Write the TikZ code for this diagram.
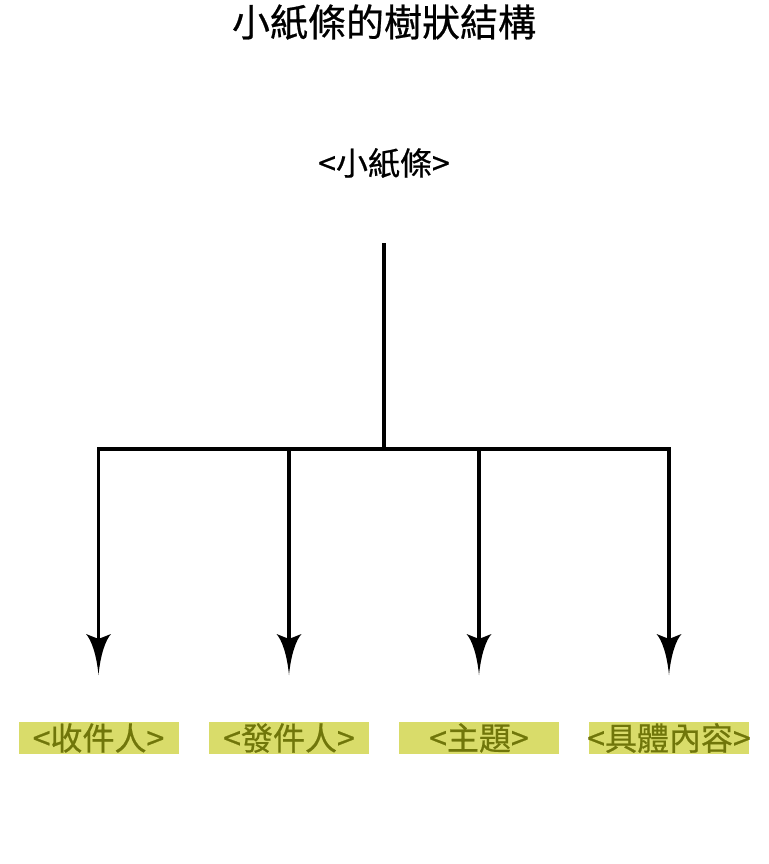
\documentclass[tikz,border=0pt]{standalone}
\usepackage{fontspec}
\newfontfamily\cjk[FakeBold=0.6]{Noto Sans CJK TC}
\usetikzlibrary{arrows.meta}
\definecolor{boxfill}{RGB}{217,220,106}
\definecolor{boxtext}{RGB}{112,118,10}

\pgfdeclarearrow{
  name = Concave,
  parameters = {\the\pgfarrowlength,\the\pgfarrowwidth},
  setup code = {
    \pgfarrowssettipend{0pt}
    \pgfarrowssetlineend{-0.5\pgfarrowlength}
    \pgfarrowssetbackend{-\pgfarrowlength}
    \pgfarrowssetvisualbackend{-0.88\pgfarrowlength}
    \pgfarrowshullpoint{0pt}{0pt}
    \pgfarrowsupperhullpoint{-\pgfarrowlength}{0.5\pgfarrowwidth}
    \pgfarrowssavethe\pgfarrowlength
    \pgfarrowssavethe\pgfarrowwidth
  },
  drawing code = {
    \pgfpathmoveto{\pgfpointorigin}
    \pgfpathcurveto{\pgfpoint{-0.5\pgfarrowlength}{0.08\pgfarrowwidth}}{\pgfpoint{-0.85\pgfarrowlength}{0.28\pgfarrowwidth}}{\pgfpoint{-\pgfarrowlength}{0.5\pgfarrowwidth}}
    \pgfpathlineto{\pgfpoint{-0.88\pgfarrowlength}{0pt}}
    \pgfpathlineto{\pgfpoint{-\pgfarrowlength}{-0.5\pgfarrowwidth}}
    \pgfpathcurveto{\pgfpoint{-0.85\pgfarrowlength}{-0.28\pgfarrowwidth}}{\pgfpoint{-0.5\pgfarrowlength}{-0.08\pgfarrowwidth}}{\pgfpointorigin}
    \pgfpathclose
    \pgfusepathqfill
  },
  defaults = {length = 41pt, width = 24pt}
}

\newcommand{\leaftext}[1]{\makebox[160pt][c]{#1}}

\tikzset{
  titletext/.style={font=\cjk\fontsize{38}{42}\selectfont, text=black, inner sep=0pt},
  roottext/.style={font=\cjk\fontsize{32}{36}\selectfont, text=black, inner sep=0pt},
  leafbox/.style={font=\cjk\fontsize{32}{36}\selectfont, text=boxtext, fill=boxfill,
    minimum width=160pt, minimum height=32pt, inner sep=0pt},
  treeline/.style={line width=3.6pt, draw=black},
  droparrow/.style={treeline, -{Concave[length=41pt,width=25pt]}}
}

\begin{document}
\begin{tikzpicture}[x=1pt,y=-1pt]
  \useasboundingbox (0,0) rectangle (768,864);
  \node[titletext] (title) at (384,22) {小紙條的樹狀結構};
  \node[roottext] (root) at (384,163) {<小紙條>};
  \coordinate (stem) at (384,243);
  \coordinate (hub) at (384,449);
  \node[leafbox] (c1) at (98.5,738) {\leaftext{<收件人>}};
  \node[leafbox] (c2) at (289,738) {\leaftext{<發件人>}};
  \node[leafbox] (c3) at (479,738) {\leaftext{<主題>}};
  \node[leafbox] (c4) at (669,738) {\leaftext{<具體內容>}};
  \coordinate (e1) at (98.5,675);
  \coordinate (e2) at (289,675);
  \coordinate (e3) at (479,675);
  \coordinate (e4) at (669,675);
  \draw[treeline] (stem) -- (hub);
  \draw[droparrow] (hub) -| (e1);
  \draw[droparrow] (hub) -| (e2);
  \draw[droparrow] (hub) -| (e3);
  \draw[droparrow] (hub) -| (e4);
\end{tikzpicture}
\end{document}
